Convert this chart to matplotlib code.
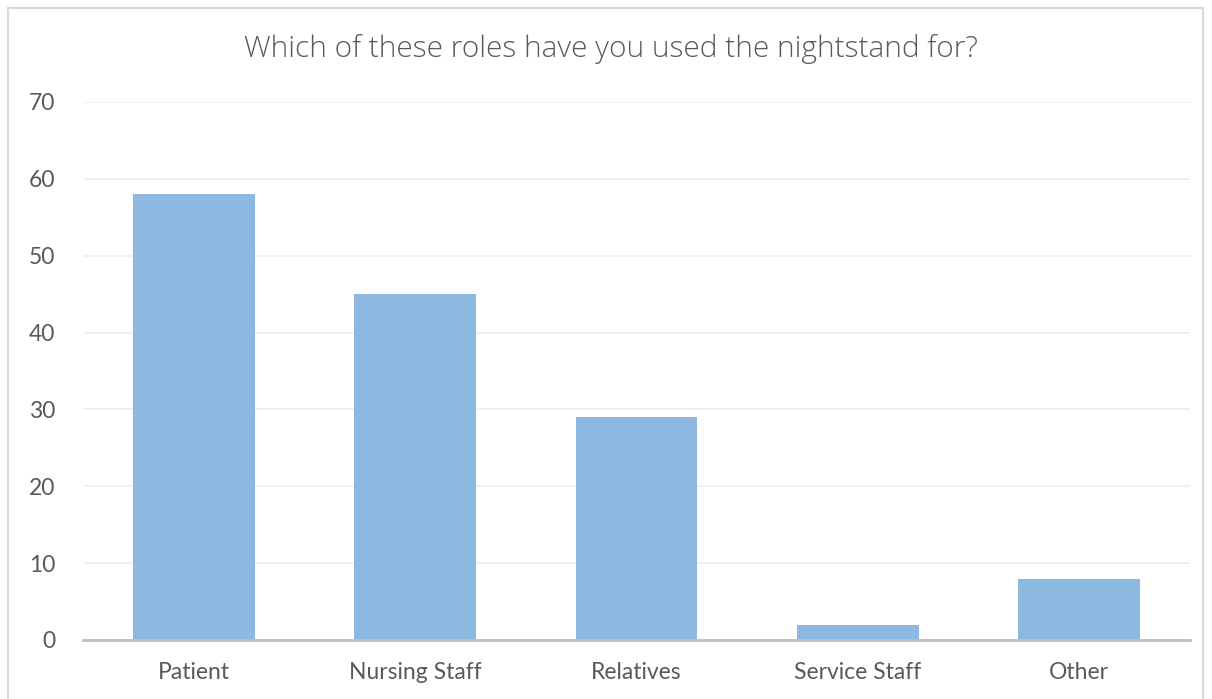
import matplotlib
matplotlib.use("Agg")
import matplotlib.pyplot as plt
from matplotlib.patches import Rectangle

categories = ["Patient", "Nursing Staff", "Relatives", "Service Staff", "Other"]
counts = [58, 45, 29, 2, 8]
y_ticks = [0, 10, 20, 30, 40, 50, 60, 70]

TEXT = "#595959"
BAR = "#8DB8E2"

plt.rcParams["font.family"] = ["Lato", "DejaVu Sans"]

W, H = 1212, 699
fig = plt.figure(figsize=(W / 100, H / 100), dpi=100)
ax = fig.add_axes([83 / W, (H - 640) / H, (1190 - 83) / W, (640 - 102) / H])

x = range(len(categories))
ax.bar(x, counts, width=0.55, color=BAR, zorder=3)
ax.set_xlim(-0.5, len(categories) - 0.5)
ax.set_ylim(0, 70)
ax.set_yticks(y_ticks)
ax.set_xticks(list(x))
ax.set_xticklabels(categories)
ax.tick_params(axis="both", length=0, labelsize=16.5, colors=TEXT)
ax.tick_params(axis="x", pad=16)
ax.tick_params(axis="y", pad=20)
ax.grid(axis="y", color="#EDEDED", linewidth=1.2, zorder=0)
for side in ["top", "right", "left"]:
    ax.spines[side].set_visible(False)
ax.spines["bottom"].set_color("#BFBFBF")
ax.spines["bottom"].set_linewidth(2)
ax.spines["bottom"].set_zorder(4)

fig.text(0.504, (H - 49) / H, "Which of these roles have you used the nightstand for?",
         ha="center", va="center", fontsize=21.5, color=TEXT,
         family=["Open Sans", "DejaVu Sans"], fontweight="light")

# chart border
fig.patches.append(Rectangle((8 / W, -0.01), (1203 - 8) / W, 1.01 - 8 / H, transform=fig.transFigure,
                             fill=False, edgecolor="#D9D9D9", linewidth=1.5))

fig.savefig("out.png", dpi=100)
